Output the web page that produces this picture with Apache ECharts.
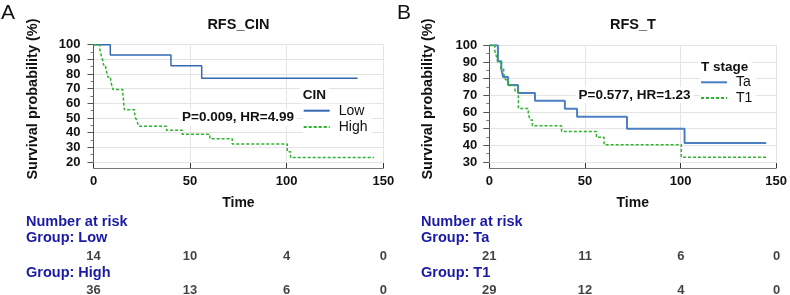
<!DOCTYPE html>
<html>
<head>
<meta charset="utf-8">
<script src="https://cdn.jsdelivr.net/npm/echarts@6/dist/echarts.min.js"></script>
<style>
  html, body { margin: 0; padding: 0; background: #fff; }
  #chart { width: 790px; height: 295px; }
</style>
</head>
<body>
<div id="chart"></div>
<script>
// Kaplan-Meier steps as [time, survival %]
const lowA = [[0, 100], [8.7, 92.9], [40.1, 85.7], [56, 77.1], [136.7, 77.1]];
const highA = [[0, 100], [3.2, 97.2], [3.7, 94.4], [4.2, 91.7], [4.9, 88.9], [5.2, 86.1],
  [6.3, 83.3], [7.0, 80.6], [7.5, 77.8], [8.9, 75.0], [9.5, 72.2], [10.1, 69.4],
  [15.2, 66.7], [15.4, 63.9], [15.6, 61.1], [15.8, 58.3], [16.0, 55.6], [21.3, 52.8],
  [21.8, 50.0], [22.7, 47.2], [23.3, 44.4], [37.8, 41.7], [45.9, 38.9], [60.2, 35.9],
  [71.8, 32.3], [100.3, 27.0], [102, 23.0], [145.2, 23.0]];
const taB = [[0, 100], [4.5, 90.5], [6.3, 85.7], [7.2, 81.0], [9.8, 76.2], [15.0, 71.4],
  [23.9, 66.7], [39.5, 61.9], [45.9, 57.1], [72, 50.0], [102.1, 41.4], [144.8, 41.4]];
const t1B = [[0, 100], [2.9, 96.6], [3.8, 93.1], [4.4, 89.7], [6.0, 86.2], [7.5, 82.8],
  [8.5, 79.3], [9.9, 75.9], [13.5, 72.4], [15.2, 62.1], [20.4, 58.6], [21.4, 55.2],
  [22.5, 51.7], [37.8, 48.3], [56, 44.8], [60, 40.4], [100.4, 32.8], [145.2, 32.8]];

// number at risk
const riskTimes = [0, 50, 100, 150];
const riskLow = [14, 10, 4, 0];
const riskHigh = [36, 13, 6, 0];
const riskTa = [21, 11, 6, 0];
const riskT1 = [29, 12, 4, 0];

const FONT = "Liberation Sans, Arial, sans-serif";
const NAVY = "#1a1aa6";

function riskPoints(counts, row) {
  return riskTimes.map((t, i) => [t, row, counts[i]]);
}

function mainX(gridIndex) {
  return {
    type: "value", gridIndex: gridIndex, min: 0, max: 150, interval: 50, offset: 6,
    axisLine: { show: true, lineStyle: { color: "#777" } },
    axisTick: { show: true, inside: true, length: 5, lineStyle: { color: "#333" } },
    splitLine: { show: true, lineStyle: { color: "#e4e4e4" } },
    axisLabel: { fontFamily: FONT, fontWeight: "bold", fontSize: 13, color: "#111", margin: 7 },
    name: "Time", nameLocation: "middle", nameGap: 28,
    nameTextStyle: { fontFamily: FONT, fontWeight: "bold", fontSize: 14, color: "#111" }
  };
}

function mainY(gridIndex, min, offset) {
  return {
    type: "value", gridIndex: gridIndex, min: min, max: 100, interval: 10, offset: offset,
    axisLine: { show: true, lineStyle: { color: "#555" } },
    axisTick: { show: true, length: 6, lineStyle: { color: "#555" } },
    minorTick: { show: true, splitNumber: 2, length: 3, lineStyle: { color: "#777" } },
    splitLine: { show: true, lineStyle: { color: "#e4e4e4" } },
    axisLabel: { fontFamily: FONT, fontWeight: "bold", fontSize: 13, color: "#111", margin: 11 }
  };
}

function hiddenX(gridIndex) {
  return { type: "value", gridIndex: gridIndex, min: 0, max: 150, show: false };
}
function hiddenY(gridIndex) {
  return { type: "value", gridIndex: gridIndex, min: 0, max: 1, show: false };
}

function kmLine(name, data, axis, color, dashed, width) {
  return {
    name: name, type: "line", step: "end", data: data,
    xAxisIndex: axis, yAxisIndex: axis, symbol: "none",
    lineStyle: { color: color, width: width, type: dashed ? [3, 2] : "solid" },
    itemStyle: { color: color }
  };
}

function riskSeries(data, axis) {
  return {
    type: "scatter", data: data, xAxisIndex: axis, yAxisIndex: axis,
    symbolSize: 1, itemStyle: { color: "rgba(0,0,0,0)" }, silent: true,
    label: {
      show: true, position: "inside", formatter: p => p.value[2],
      fontFamily: FONT, fontWeight: "bold", fontSize: 13, color: "#111"
    }
  };
}

function txt(x, y, text, font, fill, align, bg) {
  const style = { text: text, font: font, fill: fill || "#111", align: align || "left", verticalAlign: "middle" };
  if (bg) {
    style.backgroundColor = "#fff";
    style.padding = [1, 3];
  }
  return { type: "text", x: x, y: y, z: 100, style: style };
}
function vtxt(x, y, text) {
  return {
    type: "text", x: x, y: y, rotation: Math.PI / 2, z: 100,
    style: { text: text, font: "bold 14.5px " + FONT, fill: "#111", align: "center", verticalAlign: "middle" }
  };
}

const legendCommon = {
  orient: "vertical", itemWidth: 26, itemHeight: 14, padding: [0, 4, 1, 0],
  backgroundColor: "#fff",
  itemStyle: { opacity: 0 },
  textStyle: { fontFamily: FONT, fontSize: 14, color: "#111", padding: [0, 0, 0, 4] },
  selectedMode: false
};

const option = {
  animation: false,
  grid: [
    { left: 93.5, top: 44.7, width: 289.8, height: 117.3 },
    { left: 93.5, top: 256.7, width: 289.8, height: 33.3 },
    { left: 489.3, top: 45.3, width: 287.4, height: 116.7 },
    { left: 489.3, top: 256.7, width: 287.4, height: 33.3 }
  ],
  xAxis: [mainX(0), hiddenX(1), mainX(2), hiddenX(3)],
  yAxis: [mainY(0, 20, 2), hiddenY(1), mainY(2, 30, 1), hiddenY(3)],
  legend: [
    Object.assign({ data: ["Low", "High"], left: 302.7, top: 103.7, itemGap: 2.3 }, legendCommon),
    Object.assign({ data: ["Ta", "T1"], left: 700, top: 75.3, itemGap: 1.7 }, legendCommon)
  ],
  series: [
    kmLine("Low", lowA, 0, "#3567b5", false, 1.5),
    kmLine("High", highA, 0, "#2db52d", true, 1.5),
    riskSeries(riskPoints(riskLow, 1).concat(riskPoints(riskHigh, 0)), 1),
    kmLine("Ta", taB, 2, "#4b7fc2", false, 2),
    kmLine("T1", t1B, 2, "#2db52d", true, 1.5),
    riskSeries(riskPoints(riskTa, 1).concat(riskPoints(riskT1, 0)), 3)
  ],
  graphic: [
    txt(1, 13, "A", "21px " + FONT),
    txt(397, 13, "B", "21px " + FONT),
    txt(238.4, 25, "RFS_CIN", "bold 14.5px " + FONT, null, "center"),
    txt(633, 25, "RFS_T", "bold 14.5px " + FONT, null, "center"),
    vtxt(33.3, 99, "Survival probability (%)"),
    vtxt(428.3, 99, "Survival probability (%)"),
    txt(238, 117.3, "P=0.009, HR=4.99", "bold 13.5px " + FONT, null, "center", true),
    txt(634.5, 95, "P=0.577, HR=1.23", "bold 13.5px " + FONT, null, "center", true),
    txt(299.7, 95.3, "CIN", "bold 13.5px " + FONT, null, "left", true),
    txt(698, 67, "T stage", "bold 13.5px " + FONT, null, "left", true),
    txt(26, 221.7, "Number at risk", "bold 14.5px " + FONT, NAVY),
    txt(26, 238.3, "Group: Low", "bold 14.5px " + FONT, NAVY),
    txt(26, 272.7, "Group: High", "bold 14.5px " + FONT, NAVY),
    txt(421, 221.7, "Number at risk", "bold 14.5px " + FONT, NAVY),
    txt(421, 238.3, "Group: Ta", "bold 14.5px " + FONT, NAVY),
    txt(421, 272.7, "Group: T1", "bold 14.5px " + FONT, NAVY)
  ]
};

const chart = echarts.init(document.getElementById("chart"));
chart.setOption(option);
</script>
</body>
</html>
